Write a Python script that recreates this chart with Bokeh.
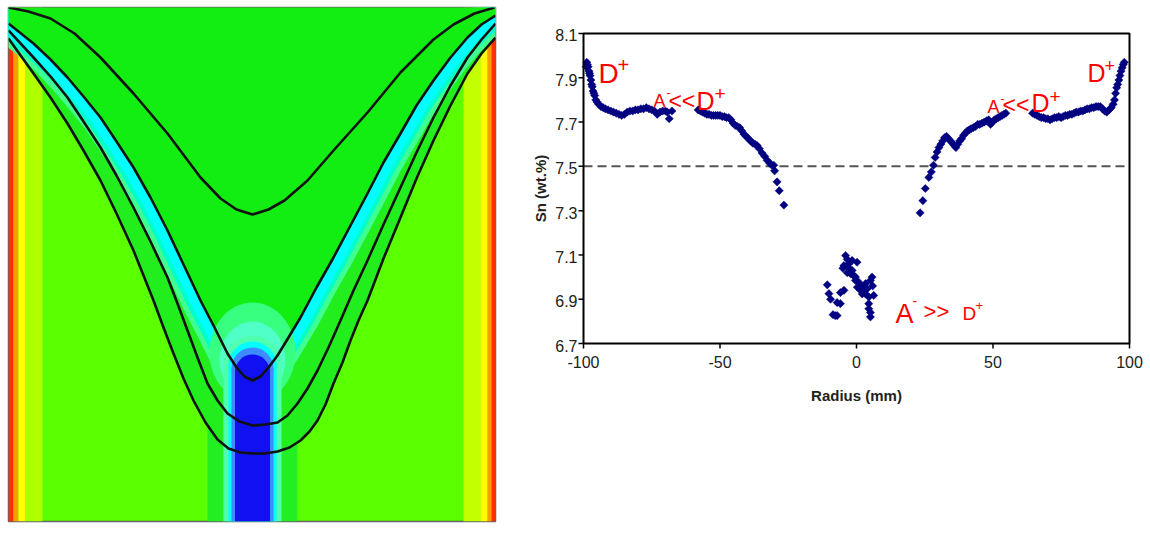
import numpy as np
from bokeh.plotting import figure
from bokeh.layouts import row
from bokeh.models import Range1d, Label
from bokeh.embed import file_html
from bokeh.resources import INLINE

# ---------------- Right panel data: Sn (wt.%) vs radius (mm) ----------------
radius_outer_left = [-99.0, -98.8, -98.6, -98.3, -98.0, -97.8, -97.6, -97.3, -97.0, -96.8, -96.5, -96.2,
                     -95.9, -95.5, -95.0, -94.4, -93.6, -92.8, -92.0, -91.0, -90.0, -89.0, -88.0, -87.0,
                     -86.0, -85.0, -84.0, -83.0, -82.0, -81.0, -80.0, -79.0, -78.0, -77.0, -76.0, -75.0,
                     -74.0, -73.0, -72.0, -71.0, -70.0, -69.3, -68.6, -67.6]
sn_outer_left = [7.95, 7.97, 7.96, 7.95, 7.93, 7.92, 7.91, 7.89, 7.87, 7.86, 7.84, 7.83,
                 7.82, 7.80, 7.79, 7.78, 7.77, 7.765, 7.76, 7.755, 7.75, 7.745, 7.74, 7.735,
                 7.73, 7.735, 7.745, 7.75, 7.75, 7.755, 7.755, 7.76, 7.76, 7.765, 7.76, 7.755,
                 7.75, 7.735, 7.745, 7.75, 7.75, 7.745, 7.715, 7.75]

radius_inner_left = [-58.0, -57.2, -56.4, -55.6, -54.8, -54.0, -53.2, -52.4, -51.6, -50.8, -50.0, -49.2,
                     -48.4, -47.6, -46.8, -46.0, -45.2, -44.4, -43.6, -42.8, -42.0, -41.2, -40.4, -39.6,
                     -38.8, -38.0, -37.2, -36.4, -35.6, -34.6, -33.6, -32.7, -31.8, -31.0, -30.3, -30.0,
                     -29.1, -28.3, -26.6]
sn_inner_left = [7.755, 7.75, 7.745, 7.74, 7.735, 7.735, 7.73, 7.73, 7.73, 7.73, 7.73, 7.725,
                 7.725, 7.72, 7.72, 7.71, 7.695, 7.685, 7.68, 7.675, 7.66, 7.645, 7.635, 7.625,
                 7.615, 7.605, 7.60, 7.594, 7.58, 7.56, 7.545, 7.527, 7.515, 7.505, 7.505, 7.48,
                 7.43, 7.39, 7.325]

radius_center = [-10.7, -10.1, -9.5, -8.6, -7.8, -7.1, -7.1, -5.9, -5.9, -4.6, -4.0, -3.4, -4.6, -5.0,
                 -2.8, -3.4, -1.6, -1.6, 0.2, -1.0, -0.4, -2.2, 0.8, 2.1, 3.3, 5.1, 5.7, 6.3, 4.5,
                 3.3, 1.5, 0.3, 4.5, 5.1, 5.1, 2.1, 3.9, 4.5, 1.2, 2.7, 5.9, -2.8, -0.4]
sn_center = [6.965, 6.925, 6.90, 6.83, 6.826, 6.826, 6.885, 6.88, 6.93, 6.94, 7.097, 7.08, 7.052, 7.04,
             7.06, 7.02, 7.03, 7.075, 7.067, 7.007, 6.985, 7.015, 6.977, 6.954, 6.97, 6.985, 7.0, 6.917, 6.91,
             6.924, 6.94, 6.954, 6.88, 6.84, 6.82, 6.924, 6.947, 6.857, 6.96, 6.935, 6.96, 7.04, 7.0]

radius_inner_right = [23.3, 24.3, 25.2, 26.5, 27.4, 28.2, 28.8, 29.5, 30.2, 30.9, 31.6, 32.3, 33.0, 33.7,
                      34.4, 35.1, 35.8, 36.4, 37.1, 37.8, 38.5, 39.2, 39.9, 40.6, 41.3, 42.0, 42.8, 43.6,
                      44.4, 45.2, 46.0, 46.8, 47.6, 48.4, 49.1, 49.8, 50.5, 51.2, 51.9, 52.6, 53.3, 54.0,
                      54.7]
sn_inner_right = [7.29, 7.345, 7.40, 7.45, 7.475, 7.505, 7.54, 7.565, 7.585, 7.60, 7.615, 7.63, 7.635, 7.625,
                  7.615, 7.605, 7.595, 7.585, 7.60, 7.615, 7.625, 7.64, 7.65, 7.66, 7.665, 7.67, 7.675, 7.68,
                  7.69, 7.69, 7.695, 7.70, 7.705, 7.71, 7.69, 7.70, 7.71, 7.715, 7.72, 7.725, 7.73, 7.735,
                  7.74]

radius_outer_right = [64.5, 65.3, 66.1, 66.9, 67.7, 68.5, 69.3, 70.1, 70.9, 71.7, 72.5, 73.3, 74.1, 74.9,
                      75.7, 76.5, 77.3, 78.1, 78.9, 79.7, 80.5, 81.3, 82.1, 82.9, 83.7, 84.5, 85.3, 86.1,
                      86.9, 87.7, 88.5, 89.3, 90.1, 90.9, 91.7, 92.5, 93.3, 94.0, 94.5, 94.9, 95.3, 95.7,
                      96.1, 96.5, 96.9, 97.3, 97.7, 98.1]
sn_outer_right = [7.74, 7.735, 7.73, 7.725, 7.72, 7.72, 7.715, 7.715, 7.71, 7.715, 7.72, 7.72, 7.725, 7.72,
                  7.725, 7.73, 7.73, 7.735, 7.735, 7.74, 7.745, 7.745, 7.75, 7.75, 7.755, 7.76, 7.76, 7.765,
                  7.765, 7.77, 7.77, 7.77, 7.76, 7.75, 7.745, 7.755, 7.765, 7.78, 7.80, 7.83, 7.855, 7.87,
                  7.89, 7.91, 7.93, 7.945, 7.96, 7.97]

x_ticks = [-100, -50, 0, 50, 100]
x_tick_labels = ["-100", "-50", "0", "50", "100"]
y_ticks = [6.7, 6.9, 7.1, 7.3, 7.5, 7.7, 7.9, 8.1]
y_tick_labels = ["6.7", "6.9", "7.1", "7.3", "7.5", "7.7", "7.9", "8.1"]
nominal_sn = 7.5
x_title = "Radius (mm)"
y_title = "Sn (wt.%)"

# annotation anchors (radius, Sn) and pieces (text, font px, dx px, dy px)
annotations = [
    (-94.5, 7.92, [("D", 28, 0, 0), ("+", 20, 19, 8)]),
    (-74.4, 7.797, [("A", 18, 0, 0), ("-", 12, 13, 8), ("<<", 23, 15, 0), ("D", 25, 43, 0), ("+", 19, 61, 7)]),
    (48.0, 7.766, [("A", 18, 0, 0), ("-", 12, 13, 9), ("<<", 23, 15, 2), ("D", 25, 44, 4), ("+", 19, 62, 11)]),
    (84.6, 7.92, [("D", 25, 0, 0), ("+", 18, 17, 8)]),
    (14.3, 6.835, [("A", 27, 0, 0), ("-", 14, 17, 13), (">>", 22, 28, 2), ("D", 19, 67, 0), ("+", 13, 80, 8)]),
]

# ---------------- Left panel: simulated field (panel pixel coordinates) ----------------
c1_x = [0, 20, 42, 66, 92, 125, 159, 192, 212, 228, 244, 260, 276, 299, 325, 359, 392, 425, 445, 466, 486]
c1_y = [0, 4, 11, 26, 50, 86, 126, 170, 191, 202, 207, 202, 193, 173, 143, 105, 65, 32, 17, 6, 0]
c2_x = [0, 25, 42, 59, 75, 92, 108, 125, 142, 159, 175, 192, 206, 219, 228, 236, 244, 252, 260, 269,
        280, 292, 308, 325, 342, 359, 375, 392, 408, 425, 442, 459, 473, 487]
c2_y = [16, 36, 52, 70, 89, 110, 134, 160, 190, 223, 257, 293, 320, 346, 360, 369, 373, 369, 360, 348,
        330, 310, 280, 250, 218, 186, 155, 126, 98, 73, 50, 30, 17, 8]
c3_x = [0, 25, 42, 59, 75, 92, 108, 125, 142, 159, 169, 179, 189, 199, 209, 219, 231, 244, 257, 269,
        279, 289, 299, 309, 320, 332, 345, 359, 375, 392, 408, 425, 442, 459, 473, 487]
c3_y = [23, 50, 69, 90, 114, 140, 168, 200, 234, 270, 296, 323, 350, 376, 393, 406, 414, 418, 417, 415,
        408, 396, 381, 363, 340, 313, 283, 253, 217, 180, 145, 110, 78, 50, 32, 16]
c4_x = [0, 25, 42, 59, 75, 92, 108, 125, 135, 145, 155, 165, 175, 185, 197, 209, 220, 232, 244, 256,
        269, 281, 292, 301, 309, 317, 325, 334, 342, 350, 359, 375, 392, 408, 425, 442, 459, 473, 487]
c4_y = [31, 66, 90, 116, 143, 173, 206, 243, 268, 293, 320, 346, 371, 393, 415, 432, 441, 445, 446, 446,
        444, 440, 433, 424, 413, 397, 376, 355, 333, 313, 293, 251, 210, 171, 133, 98, 66, 46, 30]

edge_left = [0, 5, 10, 17, 34]
edge_left_colors = ["#ff3000", "#ff9c00", "#ffff00", "#b0ff00"]
edge_right = [455, 472, 479, 483, 487]
edge_right_colors = ["#c4ff00", "#ffff00", "#ff9c00", "#ff3000"]

band_widths = [38, 28, 20]
band_colors = ["#40ff90", "#00ffcc", "#00ffff"]

glow_center = 244
glow = [(86, 100, 345, "#38ff80"), (66, 76, 352, "#50ffc8")]
column_widths = [58, 48, 42, 35]
column_tops = [328, 334, 340, 347]
column_colors = ["#50ffb0", "#00ffff", "#3d8bff", "#1010f0"]

PW, PH = 487, 514

p1 = figure(width=500, height=525, x_range=Range1d(0, PW), y_range=Range1d(PH, 0),
            x_axis_type=None, y_axis_type=None, toolbar_location=None, output_backend="svg",
            min_border_left=8, min_border_right=5, min_border_top=7, min_border_bottom=4)
p1.grid.visible = False
p1.background_fill_color = "#5aff00"
p1.outline_line_color = "#666666"
p1.outline_line_width = 1.5

p1.quad(left=edge_left[:-1], right=edge_left[1:], top=[0] * 4, bottom=[PH] * 4,
        fill_color=edge_left_colors, line_color=None)
p1.quad(left=edge_right[:-1], right=edge_right[1:], top=[0] * 4, bottom=[PH] * 4,
        fill_color=edge_right_colors, line_color=None)
p1.quad(left=[199], right=[289], top=[300], bottom=[PH], fill_color="#22ee22", line_color=None)
p1.patch(c4_x + [PW, 0], c4_y + [0, 0], fill_color="#22ee1e", line_color=None)
for w, c in zip(band_widths, band_colors):
    p1.line(c2_x, c2_y, line_width=w, line_color=c, line_join="round", line_cap="round")
p1.patch(c2_x + [PW, 0], c2_y + [0, 0], fill_color="#12ee12", line_color=None)
for w, h, yc, c in glow:
    p1.ellipse(x=[glow_center], y=[yc], width=[w], height=[h], fill_color=c, line_color=None)
for w, t, c in zip(column_widths, column_tops, column_colors):
    p1.quad(left=[glow_center - w / 2], right=[glow_center + w / 2], top=[t + w / 2], bottom=[PH],
            fill_color=c, line_color=None)
    p1.ellipse(x=[glow_center], y=[t + w / 2], width=[w], height=[w], fill_color=c, line_color=None)
for cx, cy in [(c1_x, c1_y), (c2_x, c2_y), (c3_x, c3_y), (c4_x, c4_y)]:
    p1.line(cx, cy, line_color="#111111", line_width=2.6, line_join="round")

# ---------------- Right panel (axes drawn inside a full-height frame) ----------------
PX_PER_MM = 2.73
PX_PER_SN = 221.43
W2, H2 = 645, 525
BOX_LEFT_PX, BOX_RIGHT_PX, BOX_TOP_PX, BOX_BOTTOM_PX = 83, 629, 26, 336   # relative to the frame
FRAME_H = H2 - 7 - 4
x0 = x_ticks[0] - BOX_LEFT_PX / PX_PER_MM
x1 = x_ticks[-1] + (W2 - BOX_RIGHT_PX) / PX_PER_MM
y1 = y_ticks[-1] + BOX_TOP_PX / PX_PER_SN
y0 = y_ticks[0] - (FRAME_H - BOX_BOTTOM_PX) / PX_PER_SN

p2 = figure(width=W2, height=H2, x_range=Range1d(x0, x1), y_range=Range1d(y0, y1),
            x_axis_type=None, y_axis_type=None, toolbar_location=None, output_backend="svg",
            min_border_left=0, min_border_right=0, min_border_top=7, min_border_bottom=4)
p2.grid.visible = False
p2.outline_line_color = None

xmin, xmax, ymin, ymax = x_ticks[0], x_ticks[-1], y_ticks[0], y_ticks[-1]
tick_mm = 5 / PX_PER_MM
tick_sn = 5 / PX_PER_SN

p2.segment(x0=[xmin], y0=[nominal_sn], x1=[xmax], y1=[nominal_sn], line_color="#555555",
           line_width=2, line_dash="9 5")
xs = radius_outer_left + radius_inner_left + radius_center + radius_inner_right + radius_outer_right
ys = sn_outer_left + sn_inner_left + sn_center + sn_inner_right + sn_outer_right
p2.scatter(xs, ys, marker="square", angle=np.pi / 4, size=5.8, fill_color="#000080",
           line_color="#000080", line_width=0.5)
p2.quad(left=[xmin], right=[xmax], bottom=[ymin], top=[ymax], fill_color=None,
        line_color="black", line_width=2)
p2.segment(x0=[xmin] * len(y_ticks), y0=y_ticks, x1=[xmin - tick_mm] * len(y_ticks), y1=y_ticks,
           line_color="black", line_width=1.5)
p2.segment(x0=x_ticks, y0=[ymin] * len(x_ticks), x1=x_ticks, y1=[ymin - tick_sn] * len(x_ticks),
           line_color="black", line_width=1.5)

for v, t in zip(y_ticks, y_tick_labels):
    p2.add_layout(Label(x=xmin, y=v, x_offset=-6, y_offset=-2, text=t, text_font="Liberation Sans",
                        text_font_size="16px", text_color="#222222", text_align="right",
                        text_baseline="middle"))
for v, t in zip(x_ticks, x_tick_labels):
    p2.add_layout(Label(x=v, y=ymin, y_offset=-12, text=t, text_font="Liberation Sans",
                        text_font_size="16px", text_color="#222222", text_align="center",
                        text_baseline="top"))
p2.add_layout(Label(x=(xmin + xmax) / 2, y=ymin, y_offset=-43, text=x_title, text_font="Liberation Sans",
                    text_font_size="15px", text_font_style="bold", text_color="#222222",
                    text_align="center", text_baseline="top"))
p2.add_layout(Label(x=xmin, y=(ymin + ymax) / 2, x_offset=-43, text=y_title, angle=np.pi / 2,
                    text_font="Liberation Sans", text_font_size="15px", text_font_style="bold",
                    text_color="#222222", text_align="center", text_baseline="middle"))

for ax_, ay_, pieces in annotations:
    for txt, fs, dx, dy in pieces:
        p2.add_layout(Label(x=ax_, y=ay_, x_offset=dx, y_offset=dy, text=txt,
                            text_font="Liberation Sans", text_font_size=f"{fs}px",
                            text_color="#ff0000", text_baseline="alphabetic", text_align="left"))

layout = row(p1, p2)
open("out.html", "w").write(file_html(layout, INLINE))
